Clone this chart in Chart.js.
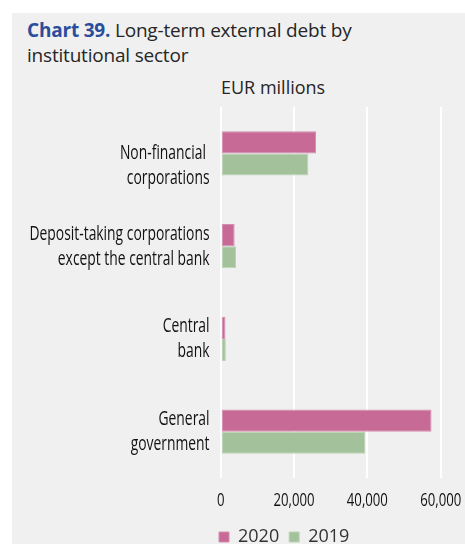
<!DOCTYPE html>
<html>
<head>
<meta charset="utf-8">
<script src="https://cdn.jsdelivr.net/npm/chart.js@4/dist/chart.umd.min.js"></script>
<style>
  html, body { margin: 0; padding: 0; background: #ffffff; width: 465px; height: 544px; overflow: hidden; }
  #panel { position: absolute; left: 12px; top: 13px; width: 453px; height: 531px; background: #f0f0f0; overflow: hidden; }
  #title { position: absolute; left: 15px; top: 5px; font-family: 'Open Sans', 'Noto Sans', sans-serif; font-size: 19px; line-height: 25px; color: #262626; letter-spacing: -0.2px; }
  #title b { color: #2a4d9c; font-weight: 700; }
  #unit { position: absolute; left: 209px; top: 62px; font-family: 'Open Sans', 'Noto Sans', sans-serif; font-size: 18px; color: #262626; }
  #wrap { position: absolute; left: 0px; top: 87px; width: 453px; height: 456px; }
</style>
</head>
<body>
<div id="panel">
  <div id="title"><b>Chart 39.</b> Long-term external debt by<br>institutional sector</div>
  <div id="unit">EUR millions</div>
  <div id="wrap"><canvas id="c"></canvas></div>
</div>
<script>
const categories = [
  ['', 'Non-financial ', 'corporations'],
  ['Deposit-taking corporations', 'except the central bank'],
  ['Central', 'bank'],
  ['General', 'government']
];
const seriesNames = ['2020', '2019'];
const values2020 = [26000, 3800, 1300, 57500];
const values2019 = [23900, 4200, 1400, 39400];
const xTicks = [0, 20000, 40000, 60000];

const FONT = "'Open Sans', 'Noto Sans', sans-serif";
const TEXT = '#111111';

// Narrow (condensed) tick labels, drawn at the library's own tick positions
const condensedLabels = {
  id: 'condensedLabels',
  afterLayout(chart) {
    const lg = chart.legend;
    if (lg) { const shift = 197 - lg.left; lg.left += shift; lg.right += shift; }
  },
  afterDraw(chart) {
    const ctx = chart.ctx, ys = chart.scales.y, xs = chart.scales.x;
    ctx.save();
    ctx.fillStyle = TEXT;
    ctx.font = '500 20px ' + FONT;
    const sx = 180 / ctx.measureText('Deposit-taking corporations').width;
    const LINE = 25;
    categories.forEach((lines, i) => {
      const cy = ys.getPixelForValue(i);
      const n = lines.length;
      lines.forEach((t, j) => {
        if (!t) return;
        const by = cy + (j - (n - 1) / 2) * LINE + 6;
        ctx.save();
        ctx.translate(ys.right - 11.2, by);
        ctx.scale(sx, 1);
        ctx.textAlign = 'right';
        ctx.textBaseline = 'alphabetic';
        ctx.fillText(t, 0, 0);
        ctx.restore();
      });
    });
    ctx.font = '500 19px ' + FONT;
    xTicks.forEach(v => {
      const px = xs.getPixelForValue(v);
      ctx.save();
      ctx.translate(px, xs.top + 28);
      ctx.scale(sx, 1);
      ctx.textAlign = 'center';
      ctx.textBaseline = 'alphabetic';
      ctx.fillText(v.toLocaleString('en-US'), 0, 0);
      ctx.restore();
    });
    ctx.restore();
  }
};

new Chart(document.getElementById('c'), {
  type: 'bar',
  data: {
    labels: categories,
    datasets: [
      { label: seriesNames[0], data: values2020, backgroundColor: '#c76b96', borderColor: '#d48db0', borderWidth: 1, borderSkipped: false },
      { label: seriesNames[1], data: values2019, backgroundColor: '#a3c29b', borderColor: '#bad3b3', borderWidth: 1, borderSkipped: false }
    ]
  },
  options: {
    indexAxis: 'y',
    responsive: true,
    maintainAspectRatio: false,
    animation: false,
    layout: { padding: { top: 7, right: 24.3, left: 0, bottom: 0 } },
    datasets: { bar: { categoryPercentage: 0.4744, barPercentage: 1.0 } },
    scales: {
      x: {
        min: 0, max: 60000,
        afterBuildTicks: (s) => { s.ticks = xTicks.map(v => ({ value: v })); },
        grid: { color: '#ffffff', lineWidth: 2, drawTicks: false },
        border: { display: false },
        ticks: { display: false },
        afterFit: (s) => { s.height = 40; }
      },
      y: {
        grid: { display: false, drawTicks: false },
        border: { display: false },
        ticks: { display: false },
        afterFit: (s) => { s.width = 208.7; }
      }
    },
    plugins: {
      legend: {
        position: 'bottom',
        align: 'start',
        labels: {
          boxWidth: 10, boxHeight: 10, padding: 10,
          color: '#333333',
          font: { family: FONT, size: 18 }
        }
      },
      tooltip: { enabled: false },
      title: { display: false }
    }
  },
  plugins: [condensedLabels]
});
</script>
</body>
</html>
